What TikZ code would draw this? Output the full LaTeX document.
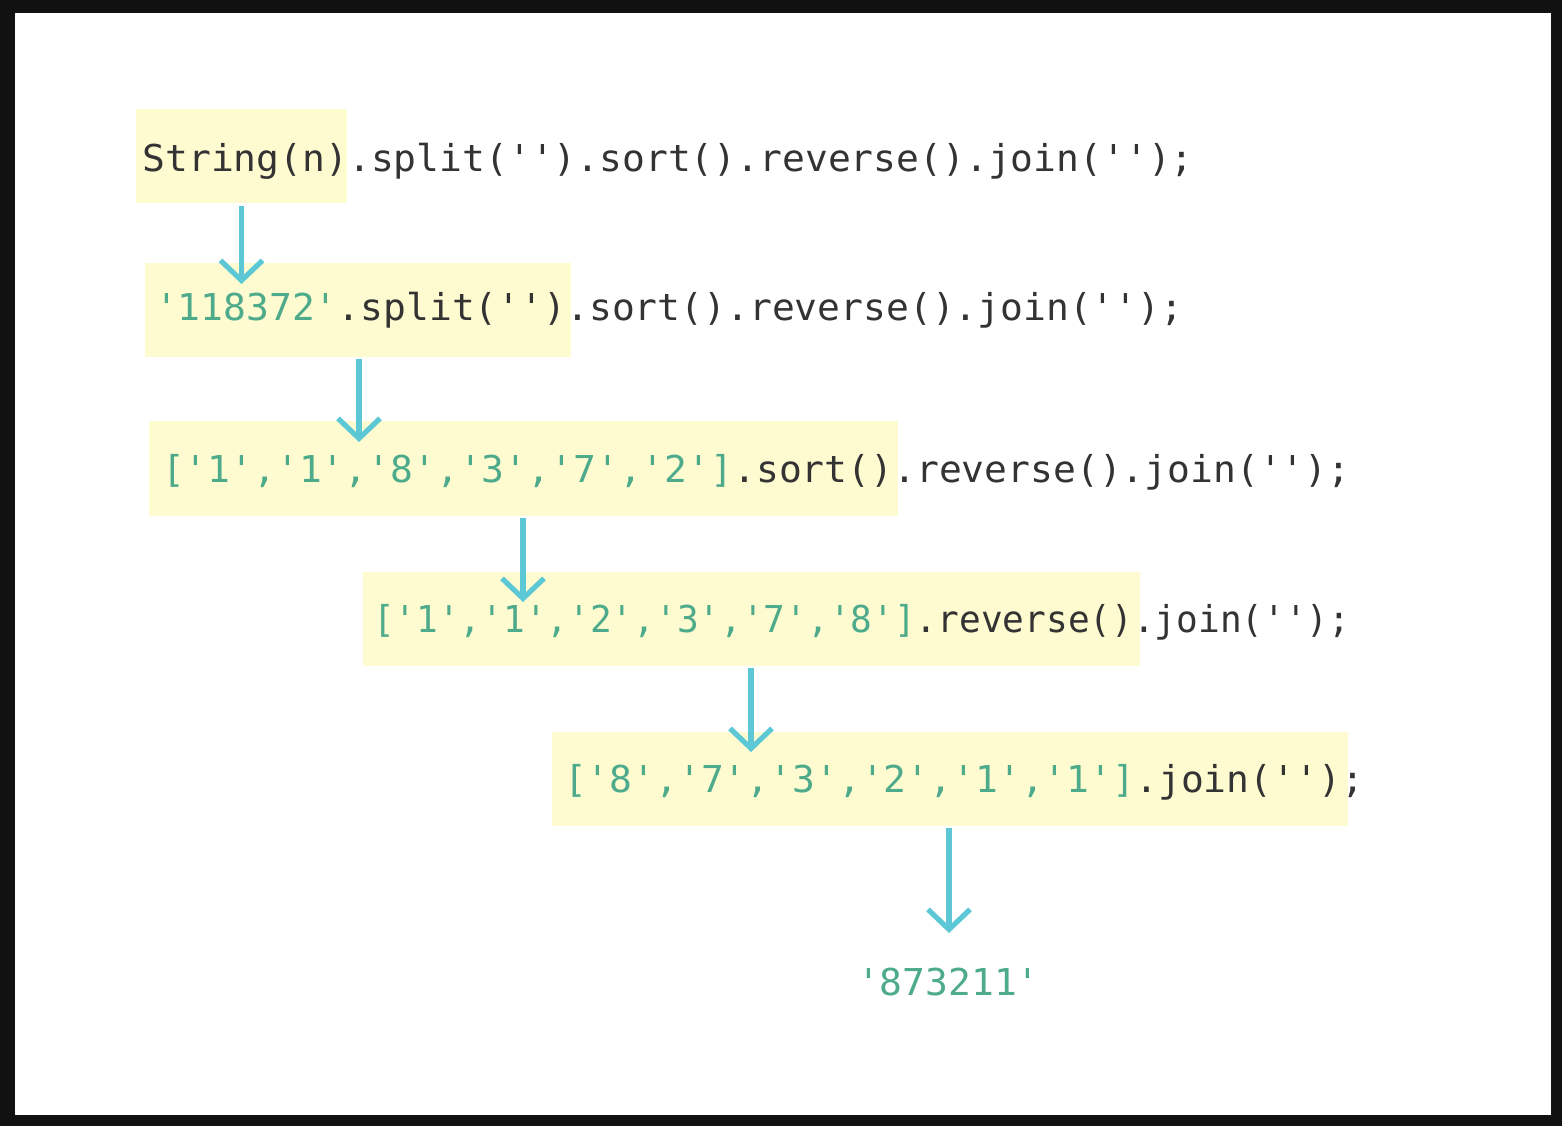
\documentclass[tikz,border=0pt]{standalone}
\usepackage{fontspec}
\usetikzlibrary{arrows.meta,calc,fit}
\newfontfamily\codefont{DejaVu Sans Mono}[FakeStretch=1.026]
\newfontfamily\codefontn{DejaVu Sans Mono}[FakeStretch=0.975]
\definecolor{bgdark}{HTML}{111111}
\definecolor{hlyellow}{HTML}{FFFBD0}
\definecolor{codegreen}{HTML}{4DAA8B}
\definecolor{codedark}{HTML}{333333}
\definecolor{arrowcyan}{HTML}{5CC8D6}
\newcommand{\gr}[1]{\textcolor{codegreen}{#1}}
\begin{document}
\begin{tikzpicture}[x=0.5pt,y=-0.5pt,
  hl/.style={fill=hlyellow,draw=none,inner sep=0pt,outer sep=0pt},
  code/.style={anchor=base west,inner sep=0pt,outer sep=0pt,text=codedark,
    font=\codefont\fontsize{18.5pt}{21pt}\selectfont},
  coden/.style={code,font=\codefontn\fontsize{18.5pt}{21pt}\selectfont},
  arr/.style={draw=arrowcyan,line width=2.6pt,-{Straight Barb[length=10pt,width=21pt]}}]
\useasboundingbox (0,0) rectangle (1562,1126);
\fill[bgdark] (0,0) rectangle (1562,1126);
\fill[white] (15,13) rectangle (1551,1115);
% highlight boxes
\node[hl,fit={(136,109) (347,203)}] (b1) {};
\node[hl,fit={(145,263) (571,357)}] (b2) {};
\node[hl,fit={(149,421) (898,516)}] (b3) {};
\node[hl,fit={(363,572) (1140,666)}] (b4) {};
\node[hl,fit={(552,732) (1348,826)}] (b5) {};
% code lines
\node[code] (t1) at (142.5,171) {String(n).split('').sort().reverse().join('');};
\node[code] (t2) at (155,320) {\gr{'118372'}.split('').sort().reverse().join('');};
\node[code] (t3) at (162,482) {\gr{['1','1','8','3','7','2']}.sort().reverse().join('');};
\node[coden] (t4) at (373,632) {\gr{['1','1','2','3','7','8']}.reverse().join('');};
\node[code] (t5) at (564,792) {\gr{['8','7','3','2','1','1']}.join('');};
\node[code] (t6) at (857,995) {\gr{'873211'}};
% arrows
\draw[arr] ($(b1.south)+(0,3)$) -- ($(b1.south |- b2.north)+(0,21)$);
\draw[arr] ($(b2.south west)+(214,2)$) -- ($(b2.south west |- b3.north)+(214,21)$);
\draw[arr] ($(b3.south west)+(374,2)$) -- ($(b3.south west |- b4.north)+(374,30)$);
\draw[arr] ($(b4.south west)+(388,2)$) -- ($(b4.south west |- b5.north)+(388,20)$);
\draw[arr] ($(b5.south west)+(397,2)$) -- ($(t6.base -| b5.south west)+(397,-62)$);
\end{tikzpicture}
\end{document}
